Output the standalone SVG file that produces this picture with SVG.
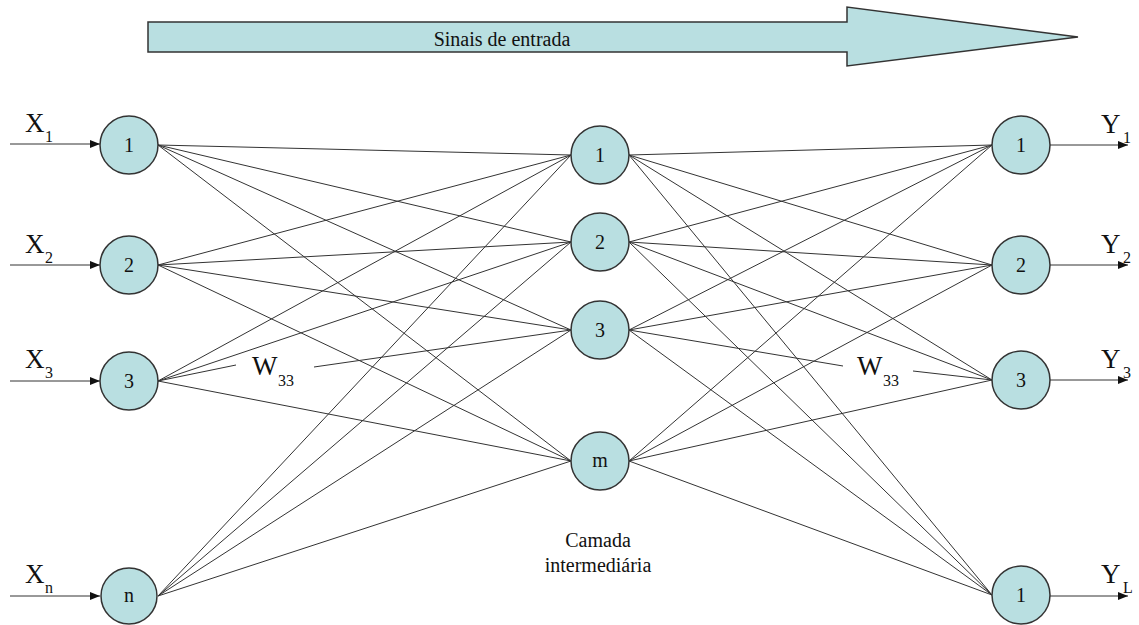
<svg xmlns="http://www.w3.org/2000/svg" width="1139" height="625" viewBox="0 0 1139 625">
<defs>
<style>
text{font-family:'Liberation Serif','DejaVu Serif',Tinos,'Times New Roman',serif;fill:#111}
.node{fill:#b9dfe1;stroke:#333;stroke-width:1.5}
.num{font-size:20px;text-anchor:middle}
.lbl{font-size:27px}
.sub{font-size:16px}
.cap{font-size:20px;text-anchor:middle}
.c line{stroke:#333;stroke-width:1;fill:none}
.io{stroke:#222;stroke-width:1.3;marker-end:url(#ah)}
</style>
<marker id="ah" viewBox="0 0 10 10" refX="10" refY="5" markerWidth="10" markerHeight="10" markerUnits="userSpaceOnUse" orient="auto"><path d="M0,1 L10,5 L0,9 z" fill="#111"/></marker>
</defs>
<rect width="1139" height="625" fill="#fff"/>
<g id="signal-arrow">
<polygon points="148,22 847,22 847,7 1078,37 847,66 847,52 148,52" fill="#b9dfe1" stroke="#333" stroke-width="1.5"/>
<text x="502" y="46" class="cap" font-size="21" font-family="Liberation Serif, serif">Sinais de entrada</text>
</g>
<g id="connectors" class="c">
<line x1="158" y1="145" x2="571" y2="155"/><line x1="158" y1="145" x2="571" y2="242"/><line x1="158" y1="145" x2="571" y2="330"/><line x1="158" y1="145" x2="571" y2="461"/>
<line x1="158" y1="265" x2="571" y2="155"/><line x1="158" y1="265" x2="571" y2="242"/><line x1="158" y1="265" x2="571" y2="330"/><line x1="158" y1="265" x2="571" y2="461"/>
<line x1="158" y1="381" x2="571" y2="155"/><line x1="158" y1="381" x2="571" y2="242"/><line x1="158" y1="381" x2="236" y2="365"/><line x1="314" y1="367" x2="571" y2="330"/><line x1="158" y1="381" x2="571" y2="461"/>
<line x1="158" y1="596" x2="571" y2="155"/><line x1="158" y1="596" x2="571" y2="242"/><line x1="158" y1="596" x2="571" y2="330"/><line x1="158" y1="596" x2="571" y2="461"/>
<line x1="629" y1="155" x2="992" y2="145"/><line x1="629" y1="155" x2="992" y2="265"/><line x1="629" y1="155" x2="992" y2="380"/><line x1="629" y1="155" x2="992" y2="595"/>
<line x1="629" y1="242" x2="992" y2="145"/><line x1="629" y1="242" x2="992" y2="265"/><line x1="629" y1="242" x2="992" y2="380"/><line x1="629" y1="242" x2="992" y2="595"/>
<line x1="629" y1="330" x2="992" y2="145"/><line x1="629" y1="330" x2="992" y2="265"/><line x1="629" y1="330" x2="843" y2="366"/><line x1="913" y1="371" x2="992" y2="380"/><line x1="629" y1="330" x2="992" y2="595"/>
<line x1="629" y1="461" x2="992" y2="145"/><line x1="629" y1="461" x2="992" y2="265"/><line x1="629" y1="461" x2="992" y2="380"/><line x1="629" y1="461" x2="992" y2="595"/>
<line class="io" x1="10" y1="144" x2="100" y2="144"/><line class="io" x1="10" y1="265" x2="100" y2="265"/><line class="io" x1="10" y1="381" x2="100" y2="381"/><line class="io" x1="10" y1="596" x2="100" y2="596"/>
<line class="io" x1="1050" y1="145" x2="1128" y2="145"/><line class="io" x1="1050" y1="265" x2="1128" y2="265"/><line class="io" x1="1050" y1="380" x2="1128" y2="380"/><line class="io" x1="1050" y1="596" x2="1128" y2="596"/>
</g>
<g id="w33-left"><text x="252" y="375" class="lbl">W</text><text x="278" y="386" class="sub">33</text></g>
<g id="w33-right"><text x="857" y="375" class="lbl">W</text><text x="883" y="386" class="sub">33</text></g>
<g id="in-labels">
<text x="25" y="132" class="lbl">X</text><text x="45" y="142" class="sub">1</text>
<text x="25" y="253" class="lbl">X</text><text x="45" y="263" class="sub">2</text>
<text x="25" y="368" class="lbl">X</text><text x="45" y="378" class="sub">3</text>
<text x="25" y="583" class="lbl">X</text><text x="45" y="593" class="sub">n</text>
</g>
<g id="out-labels">
<text x="1101" y="133" class="lbl">Y</text><text x="1123" y="143" class="sub">1</text>
<text x="1101" y="253" class="lbl">Y</text><text x="1123" y="263" class="sub">2</text>
<text x="1101" y="368" class="lbl">Y</text><text x="1123" y="378" class="sub">3</text>
<text x="1101" y="583" class="lbl">Y</text><text x="1123" y="593" class="sub">L</text>
</g>
<g id="in1"><circle class="node" cx="129" cy="145" r="29"/><text x="129" y="152" class="num">1</text></g>
<g id="in2"><circle class="node" cx="129" cy="265" r="29"/><text x="129" y="272" class="num">2</text></g>
<g id="in3"><circle class="node" cx="129" cy="381" r="29"/><text x="129" y="388" class="num">3</text></g>
<g id="inn"><circle class="node" cx="129" cy="596" r="28"/><text x="129" y="602" class="num">n</text></g>
<g id="h1"><circle class="node" cx="600" cy="155" r="29"/><text x="600" y="162" class="num">1</text></g>
<g id="h2"><circle class="node" cx="600" cy="242" r="29"/><text x="600" y="249" class="num">2</text></g>
<g id="h3"><circle class="node" cx="600" cy="330" r="29"/><text x="600" y="337" class="num">3</text></g>
<g id="hm"><circle class="node" cx="600" cy="461" r="29"/><text x="600" y="467" class="num">m</text></g>
<g id="o1"><circle class="node" cx="1021" cy="145" r="29"/><text x="1021" y="152" class="num">1</text></g>
<g id="o2"><circle class="node" cx="1021" cy="265" r="29"/><text x="1021" y="272" class="num">2</text></g>
<g id="o3"><circle class="node" cx="1021" cy="380" r="29"/><text x="1021" y="387" class="num">3</text></g>
<g id="oL"><circle class="node" cx="1021" cy="595" r="29"/><text x="1021" y="602" class="num">1</text></g>
<g id="hidden-caption"><text x="598" y="547" class="cap">Camada</text><text x="598" y="572" class="cap">intermediária</text></g>
</svg>
